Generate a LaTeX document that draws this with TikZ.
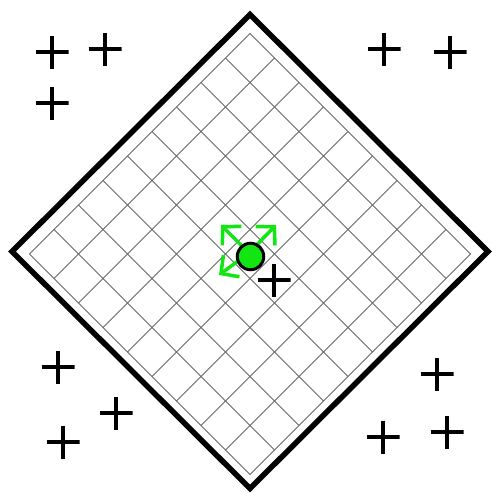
\documentclass[tikz,border=0pt]{standalone}
\usetikzlibrary{arrows.meta}
\definecolor{MoveGreen}{HTML}{12E612}
\definecolor{GridGray}{HTML}{666666}
\tikzset{
  board/.style={draw=black, line width=5.5pt},
  cellgrid/.style={draw=GridGray, line width=1pt},
  plusmark/.style={minimum size=33pt, inner sep=0pt,
    path picture={\draw[line width=4pt]
      (path picture bounding box.north) -- (path picture bounding box.south)
      (path picture bounding box.west) -- (path picture bounding box.east);}},
  moveto/.style={MoveGreen, line width=3.5pt, -{Straight Barb[length=13pt,width=27pt]}},
  token/.style={circle, draw=black, fill=MoveGreen, line width=3pt,
    minimum size=26.5pt, inner sep=0pt}
}

\begin{document}
\begin{tikzpicture}[x=1pt, y=-1pt]
  \useasboundingbox (0,0) rectangle (491,493);

  % board
  \draw[board] (250,14.5) -- (488,251.5) -- (250,488.5) -- (12,251.5) -- cycle;
  \begin{scope}[shift={(250,254)}, rotate=45]
    \foreach \k in {0,...,9} {
      \draw[cellgrid] (-155.92+34.647*\k,-155.92) -- (-155.92+34.647*\k,155.92);
      \draw[cellgrid] (-155.92,-155.92+34.647*\k) -- (155.92,-155.92+34.647*\k);
    }
  \end{scope}

  % moves of the token
  \coordinate (home) at (249,253);
  \coordinate (aimNW) at (221,225);
  \coordinate (aimNE) at (276,225);
  \coordinate (aimSW) at (219,275);
  \draw[moveto] (home) -- (aimNW);
  \draw[moveto] (home) -- (aimNE);
  \draw[moveto] (home) -- (aimSW);
  \node[token] (piece) at (250.5,256.5) {};

  % marks
  \node[plusmark] (markA) at (52,52) {};
  \node[plusmark] (markB) at (105,49) {};
  \node[plusmark] (markC) at (52,103) {};
  \node[plusmark] (markD) at (384,49) {};
  \node[plusmark] (markE) at (450,52) {};
  \node[plusmark] (markF) at (274,280) {};
  \node[plusmark] (markG) at (58,367) {};
  \node[plusmark] (markH) at (116,413) {};
  \node[plusmark] (markI) at (63,442) {};
  \node[plusmark] (markJ) at (437,374) {};
  \node[plusmark] (markK) at (383,437) {};
  \node[plusmark] (markL) at (447,432) {};
\end{tikzpicture}
\end{document}
